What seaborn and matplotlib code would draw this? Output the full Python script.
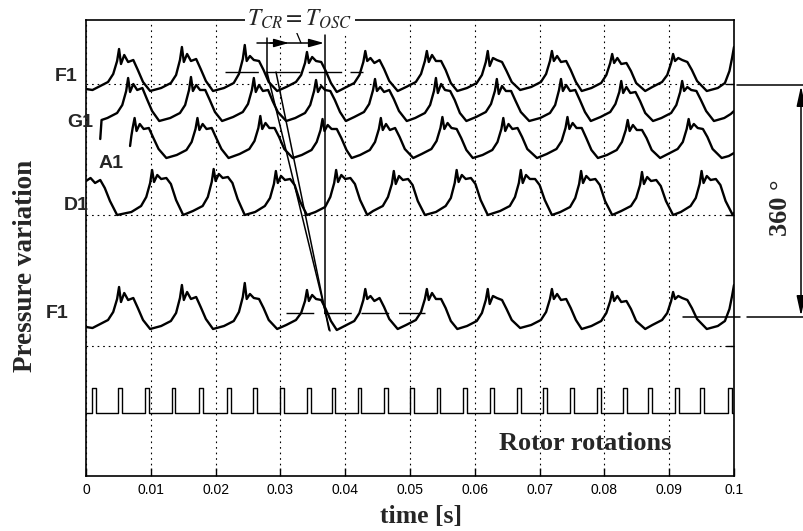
import matplotlib
matplotlib.use("Agg")
import matplotlib.pyplot as plt
import seaborn as sns
import pandas as pd

# ---------------- data ----------------
# time in seconds, pressure in arbitrary units relative to each trace's trough
f1_t = [0.0000, 0.0010, 0.0019, 0.0034, 0.0042, 0.0048, 0.0051, 0.0054, 0.0059, 0.0065, 0.0073, 0.0080, 0.0088, 0.0099,
        0.0116, 0.0131, 0.0139, 0.0145, 0.0148, 0.0151, 0.0156, 0.0162, 0.0170, 0.0177, 0.0185, 0.0196,
        0.0213, 0.0228, 0.0236, 0.0242, 0.0245, 0.0248, 0.0253, 0.0259, 0.0267, 0.0274, 0.0282, 0.0295,
        0.0309, 0.0324, 0.0332, 0.0338, 0.0341, 0.0344, 0.0349, 0.0355, 0.0363, 0.0370, 0.0378, 0.0387,
        0.0399, 0.0414, 0.0422, 0.0428, 0.0431, 0.0434, 0.0439, 0.0445, 0.0453, 0.0460, 0.0468, 0.0481,
        0.0494, 0.0509, 0.0517, 0.0523, 0.0526, 0.0529, 0.0534, 0.0540, 0.0548, 0.0555, 0.0563, 0.0573,
        0.0588, 0.0603, 0.0611, 0.0617, 0.0620, 0.0623, 0.0628, 0.0634, 0.0642, 0.0649, 0.0657, 0.0670,
        0.0687, 0.0702, 0.0710, 0.0716, 0.0719, 0.0722, 0.0727, 0.0733, 0.0741, 0.0748, 0.0756, 0.0765,
        0.0780, 0.0795, 0.0803, 0.0809, 0.0812, 0.0815, 0.0820, 0.0826, 0.0834, 0.0841, 0.0849, 0.0863,
        0.0874, 0.0889, 0.0897, 0.0903, 0.0906, 0.0909, 0.0914, 0.0920, 0.0928, 0.0935, 0.0943, 0.0958,
        0.0975, 0.0986, 0.0993, 0.0997, 0.1000]
f1_v = [2, 1, 4, 9, 17, 30, 42, 27, 36, 29, 31, 21, 9, 0,
        3, 8, 16, 31, 44, 29, 37, 30, 32, 22, 10, 0,
        3, 8, 17, 32, 46, 30, 35, 31, 30, 21, 9, 0,
        4, 9, 16, 28, 39, 28, 34, 30, 29, 20, 8, -1,
        3, 8, 16, 29, 40, 30, 33, 28, 31, 22, 10, 0,
        4, 9, 17, 30, 40, 29, 36, 30, 30, 21, 8, 0,
        3, 8, 16, 29, 40, 25, 33, 31, 29, 20, 9, 1,
        4, 9, 17, 30, 40, 30, 35, 29, 30, 21, 9, 0,
        3, 8, 16, 28, 37, 28, 33, 27, 28, 20, 8, 0,
        4, 9, 16, 28, 37, 30, 33, 31, 29, 21, 10, 0,
        3, 8, 20, 33, 44]

g1_t = [0.0022, 0.0024, 0.0033, 0.0048, 0.0056, 0.0062, 0.0065, 0.0068, 0.0073, 0.0079, 0.0087, 0.0094, 0.0102, 0.0113,
        0.0130, 0.0145, 0.0153, 0.0159, 0.0162, 0.0165, 0.0170, 0.0176, 0.0184, 0.0191, 0.0199, 0.0210,
        0.0227, 0.0242, 0.0250, 0.0256, 0.0259, 0.0262, 0.0267, 0.0273, 0.0281, 0.0288, 0.0296, 0.0309,
        0.0323, 0.0338, 0.0346, 0.0352, 0.0355, 0.0358, 0.0363, 0.0369, 0.0377, 0.0384, 0.0392, 0.0401,
        0.0414, 0.0429, 0.0437, 0.0443, 0.0446, 0.0449, 0.0454, 0.0460, 0.0468, 0.0475, 0.0483, 0.0495,
        0.0508, 0.0523, 0.0531, 0.0537, 0.0540, 0.0543, 0.0548, 0.0554, 0.0562, 0.0569, 0.0577, 0.0587,
        0.0602, 0.0617, 0.0625, 0.0631, 0.0634, 0.0637, 0.0642, 0.0648, 0.0656, 0.0663, 0.0671, 0.0684,
        0.0701, 0.0716, 0.0724, 0.0730, 0.0733, 0.0736, 0.0741, 0.0747, 0.0755, 0.0762, 0.0770, 0.0779,
        0.0794, 0.0809, 0.0817, 0.0823, 0.0826, 0.0829, 0.0834, 0.0840, 0.0848, 0.0855, 0.0863, 0.0875,
        0.0888, 0.0903, 0.0911, 0.0917, 0.0920, 0.0923, 0.0928, 0.0934, 0.0942, 0.0949, 0.0957, 0.0969,
        0.0985, 0.0995, 0.1000]
g1_v = [-18, 1, 3, 8, 16, 30, 43, 29, 37, 31, 33, 22, 10, 0,
        3, 8, 16, 31, 44, 30, 36, 31, 31, 21, 9, 0,
        4, 9, 17, 31, 43, 29, 36, 30, 31, 20, 9, 0,
        3, 8, 16, 30, 41, 29, 35, 31, 30, 21, 9, 0,
        4, 9, 17, 31, 42, 30, 34, 29, 31, 22, 10, 0,
        3, 8, 16, 30, 43, 28, 37, 31, 30, 21, 8, 0,
        4, 9, 17, 30, 42, 27, 35, 30, 30, 20, 9, 0,
        3, 8, 16, 31, 42, 30, 36, 30, 31, 21, 9, 0,
        4, 9, 17, 29, 40, 28, 34, 28, 29, 20, 8, 0,
        3, 8, 16, 29, 40, 30, 34, 31, 30, 21, 10, 0,
        3, 7, 10]

a1_t = [0.0068, 0.0070, 0.0072, 0.0075, 0.0078, 0.0083, 0.0089, 0.0097, 0.0104, 0.0112, 0.0124,
        0.0140, 0.0155, 0.0163, 0.0169, 0.0172, 0.0175, 0.0180, 0.0186, 0.0194, 0.0201, 0.0209, 0.0220,
        0.0237, 0.0252, 0.0260, 0.0266, 0.0269, 0.0272, 0.0277, 0.0283, 0.0291, 0.0298, 0.0306, 0.0319,
        0.0333, 0.0348, 0.0356, 0.0362, 0.0365, 0.0368, 0.0373, 0.0379, 0.0387, 0.0394, 0.0402, 0.0410,
        0.0423, 0.0438, 0.0446, 0.0452, 0.0455, 0.0458, 0.0463, 0.0469, 0.0477, 0.0484, 0.0492, 0.0505,
        0.0518, 0.0533, 0.0541, 0.0547, 0.0550, 0.0553, 0.0558, 0.0564, 0.0572, 0.0579, 0.0587, 0.0597,
        0.0612, 0.0627, 0.0635, 0.0641, 0.0644, 0.0647, 0.0652, 0.0658, 0.0666, 0.0673, 0.0681, 0.0696,
        0.0711, 0.0726, 0.0734, 0.0740, 0.0743, 0.0746, 0.0751, 0.0757, 0.0765, 0.0772, 0.0780, 0.0790,
        0.0804, 0.0819, 0.0827, 0.0833, 0.0836, 0.0839, 0.0844, 0.0850, 0.0858, 0.0865, 0.0873, 0.0886,
        0.0898, 0.0913, 0.0921, 0.0927, 0.0930, 0.0933, 0.0938, 0.0944, 0.0952, 0.0959, 0.0967, 0.0981,
        0.0992, 0.1000]
a1_v = [12, 22, 30, 40, 27, 34, 29, 30, 20, 9, 0,
        3, 8, 16, 29, 40, 28, 34, 29, 30, 20, 9, 0,
        4, 9, 17, 30, 42, 29, 35, 30, 30, 21, 9, 0,
        3, 8, 16, 28, 39, 27, 33, 29, 29, 20, 8, 0,
        3, 8, 16, 29, 40, 28, 34, 28, 30, 21, 9, 0,
        4, 9, 17, 30, 41, 29, 35, 30, 29, 20, 8, 0,
        3, 8, 16, 29, 40, 27, 34, 29, 30, 21, 9, 0,
        4, 9, 17, 30, 41, 29, 35, 30, 30, 20, 8, 0,
        3, 8, 16, 28, 38, 27, 33, 28, 28, 20, 8, 0,
        4, 9, 16, 29, 39, 29, 34, 30, 29, 21, 9, 0,
        2, 5]

d1_t = [0.0000, 0.0007, 0.0014, 0.0022, 0.0029, 0.0037, 0.0048,
        0.0070, 0.0085, 0.0093, 0.0099, 0.0102, 0.0105, 0.0110, 0.0116, 0.0124, 0.0131, 0.0139, 0.0150,
        0.0165, 0.0180, 0.0188, 0.0194, 0.0197, 0.0200, 0.0205, 0.0211, 0.0219, 0.0226, 0.0234, 0.0245,
        0.0261, 0.0276, 0.0284, 0.0290, 0.0293, 0.0296, 0.0301, 0.0307, 0.0315, 0.0322, 0.0330, 0.0341,
        0.0354, 0.0369, 0.0377, 0.0383, 0.0386, 0.0389, 0.0394, 0.0400, 0.0408, 0.0415, 0.0423, 0.0434,
        0.0443, 0.0458, 0.0466, 0.0472, 0.0475, 0.0478, 0.0483, 0.0489, 0.0497, 0.0504, 0.0512, 0.0523,
        0.0540, 0.0555, 0.0563, 0.0569, 0.0572, 0.0575, 0.0580, 0.0586, 0.0594, 0.0601, 0.0609, 0.0620,
        0.0639, 0.0654, 0.0662, 0.0668, 0.0671, 0.0674, 0.0679, 0.0685, 0.0693, 0.0700, 0.0708, 0.0719,
        0.0732, 0.0747, 0.0755, 0.0761, 0.0764, 0.0767, 0.0772, 0.0778, 0.0786, 0.0793, 0.0801, 0.0812,
        0.0826, 0.0841, 0.0849, 0.0855, 0.0858, 0.0861, 0.0866, 0.0872, 0.0880, 0.0887, 0.0895, 0.0906,
        0.0918, 0.0933, 0.0941, 0.0947, 0.0950, 0.0953, 0.0958, 0.0964, 0.0972, 0.0979, 0.0987, 0.0998, 0.1000]
d1_v = [34, 37, 32, 35, 27, 14, 0,
        3, 9, 18, 32, 45, 33, 40, 36, 37, 31, 15, 0,
        4, 9, 18, 33, 46, 34, 41, 37, 38, 32, 16, 0,
        3, 9, 17, 31, 44, 32, 39, 35, 36, 30, 14, 0,
        3, 8, 18, 32, 45, 33, 40, 36, 37, 31, 15, 0,
        4, 9, 18, 31, 44, 31, 39, 35, 36, 30, 14, 0,
        3, 9, 17, 32, 45, 33, 40, 36, 37, 31, 15, 0,
        4, 9, 18, 32, 45, 32, 40, 36, 36, 30, 15, 0,
        3, 8, 17, 31, 44, 32, 39, 35, 36, 30, 14, 0,
        4, 9, 17, 30, 43, 31, 38, 34, 35, 29, 14, 0,
        3, 9, 17, 31, 44, 32, 39, 35, 36, 30, 14, 0, 2]

# rotor once-per-revolution pulses (leading edge times, s)
rotor_pulse_t = [0.0009, 0.0050, 0.0091, 0.0132, 0.0174, 0.0217, 0.0258, 0.0299, 0.0341, 0.0379,
                 0.0419, 0.0460, 0.0500, 0.0541, 0.0582, 0.0624, 0.0665, 0.0706, 0.0747, 0.0788,
                 0.0829, 0.0868, 0.0909, 0.0948, 0.0991]
rotor_pulse_width = 0.0006
rotor_low, rotor_high = 63, 88

# display offsets of the stacked traces
offset_f1_top, offset_g1, offset_a1, offset_d1, offset_f1_bottom = 385, 355, 318, 261, 147

x_ticks = [0, 0.01, 0.02, 0.03, 0.04, 0.05, 0.06, 0.07, 0.08, 0.09, 0.1]
x_tick_labels = ["0", "0.01", "0.02", "0.03", "0.04", "0.05", "0.06", "0.07", "0.08", "0.09", "0.1"]
grid_levels = [130, 261, 392]

# ---------------- style ----------------
sns.set_theme(style="white")
plt.rcParams["font.family"] = ["Liberation Sans", "DejaVu Sans"]
plt.rcParams["mathtext.fontset"] = "stix"
plt.rcParams["axes.edgecolor"] = "black"
plt.rcParams["axes.linewidth"] = 1.2

SERIF = ["Liberation Serif", "DejaVu Serif"]
SANS = ["Liberation Sans", "DejaVu Sans"]

fig = plt.figure(figsize=(8.04, 5.31), dpi=100)
ax = fig.add_axes([86 / 804, (531 - 476) / 531, 648 / 804, 456 / 531])
ax.set_xlim(0, 0.1)
ax.set_ylim(0, 456)


def P(xpx, ypx):
    """pixel position of the reference -> data coordinates (for annotations)"""
    return (xpx - 86) / 6480.0, 476 - ypx


# ---------------- traces ----------------
traces = [
    (f1_t, f1_v, offset_f1_top),
    (g1_t, g1_v, offset_g1),
    (a1_t, a1_v, offset_a1),
    (d1_t, d1_v, offset_d1),
    (f1_t, f1_v, offset_f1_bottom),
]
for t, v, off in traces:
    df = pd.DataFrame({"t": t, "p": [val + off for val in v]})
    sns.lineplot(data=df, x="t", y="p", estimator=None, sort=False,
                 color="black", lw=1.7, ax=ax, zorder=3)

# rotor pulse train
rot_t, rot_v = [0.0], [rotor_low]
for p in rotor_pulse_t:
    rot_t += [p, p, p + rotor_pulse_width, p + rotor_pulse_width]
    rot_v += [rotor_low, rotor_high, rotor_high, rotor_low]
rot_t.append(0.1)
rot_v.append(rotor_low)
sns.lineplot(x=rot_t, y=rot_v, estimator=None, sort=False, color="black", lw=1.0, ax=ax, zorder=3)

# ---------------- axes cosmetics ----------------
ax.set_xticks(x_ticks)
ax.set_xticklabels(x_tick_labels, fontsize=10, family=SANS)
ax.set_yticks(grid_levels)
ax.set_yticklabels([])
ax.tick_params(axis="x", direction="in", length=6, width=1, bottom=True, top=False, pad=5, colors="black")
ax.tick_params(axis="y", direction="in", length=6, width=1, left=False, right=True, colors="black")
ax.grid(True, color="black", lw=0.8, linestyle=(0, (1.5, 3.5)))
for s in ax.spines.values():
    s.set_color("black")
    s.set_linewidth(1.2)

ax.set_xlabel("time [s]", fontsize=18.5, fontweight="bold", family=SERIF)
ax.xaxis.set_label_coords((421 - 86) / 648, (476 - 523) / 456)
ax.xaxis.label.set_va("baseline")
ax.set_ylabel("Pressure variation", fontsize=19.5, fontweight="bold", family=SERIF)
ax.yaxis.set_label_coords((32 - 86) / 648, (476 - 266) / 456)
ax.yaxis.label.set_va("baseline")

# trace labels
for name, (xp, yp) in [("F1", (66, 76)), ("G1", (80, 122)), ("A1", (111, 163)),
                       ("D1", (76, 205)), ("F1", (57, 314))]:
    ax.text(*P(xp, yp), name, fontsize=14, fontweight="bold", family=SANS,
            ha="center", va="center", clip_on=False, zorder=5)

ax.text(*P(585, 450), "Rotor rotations", fontsize=19, fontweight="bold", family=SERIF,
        ha="center", va="baseline")

# T_CR = T_OSC annotation
ax.text(*P(300, 19), r"$T_{CR} = T_{OSC}$", fontsize=17, ha="center", va="center",
        clip_on=False, zorder=6,
        bbox=dict(facecolor="white", edgecolor="none", pad=1.5))
lk = dict(color="black", lw=1.1, clip_on=False, zorder=4)
x0, y0 = P(267, 38); x1, y1 = P(267, 77)
ax.plot([x0, x1], [y0, y1], **lk)
x0, y0 = P(325, 35); x1, y1 = P(325, 313)
ax.plot([x0, x1], [y0, y1], **lk)
x0, y0 = P(296, 31); x1, y1 = P(301, 43)
ax.plot([x0, x1], [y0, y1], color="black", lw=0.9, zorder=4, clip_on=False)
arr = dict(arrowstyle="-|>,head_length=0.9,head_width=0.25", color="black", lw=1.1,
           shrinkA=0, shrinkB=0, mutation_scale=10)
ax.annotate("", xy=P(324, 43), xytext=P(257, 43), arrowprops=arr, annotation_clip=False)
ax.annotate("", xy=P(289, 43), xytext=P(270, 43), arrowprops=arr, annotation_clip=False)

# reference levels and phase lines
x0, y0 = P(225, 72); x1, y1 = P(363, 72)
ax.plot([x0, x1], [y0, y1], color="black", lw=1.0, linestyle=(0, (24, 6)), zorder=4)
x0, y0 = P(286, 313); x1, y1 = P(425, 313)
ax.plot([x0, x1], [y0, y1], color="black", lw=1.0, linestyle=(0, (20, 7)), zorder=4)
x0, y0 = P(267, 72); x1, y1 = P(330, 331)
ax.plot([x0, x1], [y0, y1], color="black", lw=1.1, zorder=4)
x0, y0 = P(276, 72); x1, y1 = P(329, 330)
ax.plot([x0, x1], [y0, y1], color="black", lw=1.1, zorder=4)

# 360 degree bracket on the right
x0, y0 = P(737, 85); x1, y1 = P(804, 85)
ax.plot([x0, x1], [y0, y1], **lk)
x0, y0 = P(683, 317); x1, y1 = P(740, 317)
ax.plot([x0, x1], [y0, y1], **lk)
x0, y0 = P(747, 317); x1, y1 = P(804, 317)
ax.plot([x0, x1], [y0, y1], **lk)
ax.annotate("", xy=P(801, 86), xytext=P(801, 316),
            arrowprops=dict(arrowstyle="<|-|>,head_length=1.0,head_width=0.22", color="black",
                            lw=1.1, shrinkA=0, shrinkB=0, mutation_scale=12),
            annotation_clip=False)
ax.text(*P(787, 208), "360 °", fontsize=19, fontweight="bold", family=SERIF,
        rotation=90, rotation_mode="anchor", ha="center", va="baseline", clip_on=False)

fig.savefig("out.png", dpi=100)
